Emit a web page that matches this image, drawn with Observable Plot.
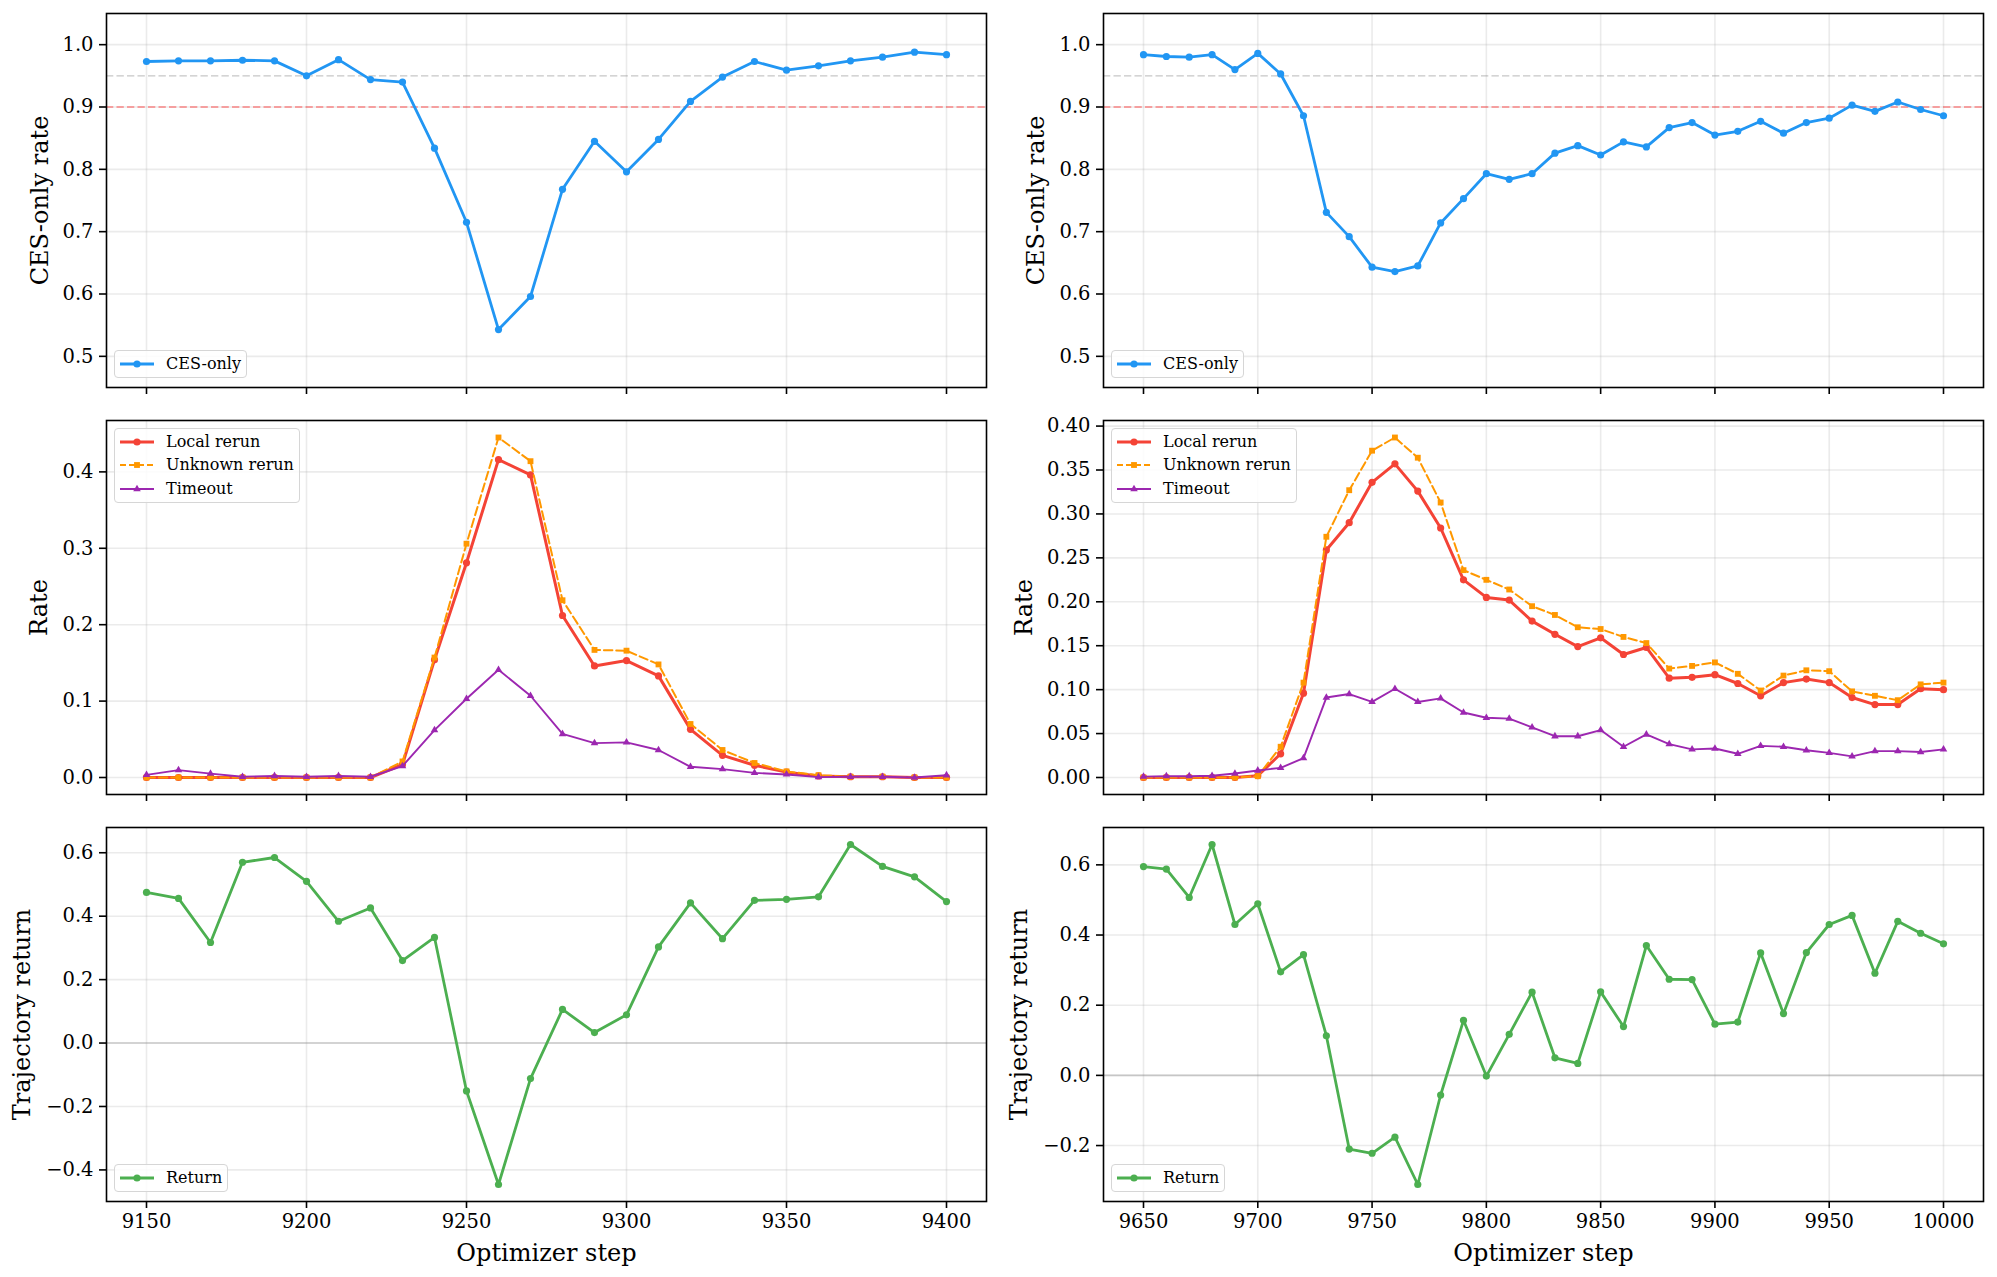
<!DOCTYPE html>
<html><head><meta charset="utf-8">
<script src="https://cdn.jsdelivr.net/npm/d3@7"></script>
<script src="https://cdn.jsdelivr.net/npm/@observablehq/plot@0.6"></script>
<style>
html,body{margin:0;padding:0;background:#fff;}
#fig{position:relative;width:1997px;height:1277px;overflow:hidden;font-family:"DejaVu Serif",serif;}
.panel{position:absolute;}
.legend{position:absolute;background:rgba(255,255,255,0.85);border:1.3px solid #d6d6d6;border-radius:4px;box-sizing:border-box;font-family:"DejaVu Serif",serif;font-size:16px;color:#000;}
.legend .sw{position:absolute;left:4px;}
.legend .lab{position:absolute;left:51px;line-height:20px;white-space:nowrap;}
</style></head><body><div id="fig"></div>
<script>
// ---------- data ----------
const stepsA = [9150,9160,9170,9180,9190,9200,9210,9220,9230,9240,9250,9260,9270,9280,9290,9300,9310,9320,9330,9340,9350,9360,9370,9380,9390,9400];
const cesA = [0.973,0.974,0.974,0.975,0.974,0.950,0.976,0.944,0.940,0.834,0.715,0.543,0.596,0.768,0.845,0.796,0.848,0.909,0.948,0.973,0.959,0.966,0.974,0.980,0.988,0.984];
const localA = [0,0,0,0,0,0,0,0,0.017,0.154,0.281,0.416,0.396,0.212,0.146,0.153,0.133,0.063,0.029,0.016,0.007,0.002,0.001,0.001,0,0];
const unknownA = [0,0,0,0,0,0,0,0,0.021,0.157,0.306,0.445,0.414,0.232,0.167,0.166,0.148,0.070,0.036,0.019,0.008,0.003,0.001,0.001,0,0];
const timeoutA = [0.0035,0.0096,0.005,0.001,0.002,0.001,0.002,0.001,0.015,0.062,0.103,0.141,0.107,0.057,0.045,0.046,0.036,0.014,0.011,0.006,0.004,0.0005,0.001,0.001,0,0.003];
const returnA = [0.475,0.456,0.317,0.570,0.585,0.510,0.384,0.426,0.260,0.333,-0.151,-0.446,-0.112,0.106,0.033,0.089,0.303,0.442,0.329,0.450,0.453,0.461,0.626,0.557,0.524,0.446];

const stepsB = [9650,9660,9670,9680,9690,9700,9710,9720,9730,9740,9750,9760,9770,9780,9790,9800,9810,9820,9830,9840,9850,9860,9870,9880,9890,9900,9910,9920,9930,9940,9950,9960,9970,9980,9990,10000];
const cesB = [0.984,0.981,0.980,0.984,0.960,0.986,0.953,0.886,0.731,0.692,0.643,0.636,0.645,0.714,0.753,0.793,0.784,0.793,0.826,0.838,0.823,0.844,0.836,0.867,0.875,0.855,0.861,0.877,0.858,0.875,0.882,0.903,0.893,0.908,0.896,0.886];
const localB = [0,0,0,0,0,0.002,0.027,0.096,0.259,0.290,0.336,0.357,0.326,0.284,0.225,0.205,0.202,0.178,0.163,0.149,0.159,0.140,0.148,0.113,0.114,0.117,0.107,0.093,0.108,0.112,0.108,0.091,0.083,0.083,0.101,0.100];
const unknownB = [0,0,0,0,0,0.0015,0.035,0.108,0.274,0.327,0.372,0.387,0.364,0.313,0.236,0.225,0.214,0.195,0.185,0.171,0.169,0.160,0.153,0.124,0.127,0.131,0.118,0.099,0.116,0.122,0.121,0.098,0.093,0.088,0.106,0.108];
const timeoutB = [0.001,0.0015,0.0015,0.002,0.0045,0.008,0.011,0.022,0.091,0.095,0.086,0.101,0.086,0.090,0.074,0.068,0.067,0.057,0.047,0.047,0.054,0.035,0.049,0.038,0.032,0.033,0.027,0.036,0.035,0.031,0.028,0.024,0.030,0.030,0.029,0.032];
const returnB = [0.595,0.588,0.507,0.658,0.430,0.489,0.295,0.344,0.113,-0.210,-0.222,-0.176,-0.311,-0.056,0.157,-0.002,0.117,0.237,0.050,0.034,0.238,0.139,0.370,0.274,0.273,0.146,0.152,0.349,0.176,0.350,0.430,0.456,0.291,0.439,0.405,0.375];

// tick values
const xTicksA = [9150,9200,9250,9300,9350,9400];
const xTicksB = [9650,9700,9750,9800,9850,9900,9950,10000];
const yTicksCES = [0.5,0.6,0.7,0.8,0.9,1.0];
const yTicksRateA = [0.0,0.1,0.2,0.3,0.4];
const yTicksRateB = [0.00,0.05,0.10,0.15,0.20,0.25,0.30,0.35,0.40];
const yTicksRetA = [-0.4,-0.2,0.0,0.2,0.4,0.6];
const yTicksRetB = [-0.2,0.0,0.2,0.4,0.6];
const cesDomain = [0.45, 1.05];
const cesRefGray = [0.95];
const cesRefRed = [0.9];
const returnRef = [0];

// labels
const xLabel = "Optimizer step";
const yLabels = {ces: "CES-only rate", rate: "Rate", ret: "Trajectory return"};

// series styles
const S = {
  ces: {name: "CES-only", color: "#2196F3", width: 2.8, symbol: "circle", r: 3.6, dash: null},
  local: {name: "Local rerun", color: "#F44336", width: 3.0, symbol: "circle", r: 3.6, dash: null},
  unknown: {name: "Unknown rerun", color: "#FF9800", width: 2.0, symbol: "square", r: 3.3, dash: "8.5,3.8"},
  timeout: {name: "Timeout", color: "#9C27B0", width: 1.9, symbol: "triangle", r: 2.8, dash: null},
  ret: {name: "Return", color: "#4CAF50", width: 2.8, symbol: "circle", r: 3.6, dash: null}
};

// ---------- helpers ----------
const pad = (arr) => { const [a, b] = d3.extent(arr); const m = (b - a) * 0.05; return [a - m, b + m]; };
const rows = (xs, ys) => xs.map((x, i) => ({x, y: ys[i]}));
const FONT = "DejaVu Serif";
const fig = document.getElementById("fig");

const cols = [
  {left: 0, width: 998, ml: 106, mr: 12},
  {left: 998, width: 999, ml: 105, mr: 14}
];
const rowsL = [
  {top: 0, height: 410, mt: 13, mb: 23},
  {top: 410, height: 410, mt: 10, mb: 26},
  {top: 818, height: 459, mt: 9, mb: 76}
];

function seriesMarks(steps, vals, st) {
  const d = rows(steps, vals);
  return [
    Plot.line(d, {x: "x", y: "y", stroke: st.color, strokeWidth: st.width, strokeDasharray: st.dash ?? undefined}),
    Plot.dot(d, {x: "x", y: "y", fill: st.color, stroke: "none", symbol: () => st.symbol, r: st.r})
  ];
}

function panel(ci, ri, cfg) {
  const c = cols[ci], r = rowsL[ri];
  const marks = [
    Plot.gridX(cfg.xTicks, {stroke: "#b0b0b0", strokeOpacity: 0.26, strokeWidth: 1.6}),
    Plot.gridY(cfg.yTicks, {stroke: "#b0b0b0", strokeOpacity: 0.26, strokeWidth: 1.6}),
    ...(cfg.refs || []),
    ...cfg.series.flatMap(([vals, st]) => seriesMarks(cfg.steps, vals, st)),
    Plot.frame({stroke: "black", strokeWidth: 1.6}),
    Plot.axisX({ticks: cfg.xTicks, tickSize: 7, tickPadding: 6, strokeWidth: 1.6, fontSize: 19.5, label: null,
      tickFormat: cfg.showX ? d3.format("d") : () => ""}),
    Plot.axisY({ticks: cfg.yTicks, tickSize: 7, tickPadding: 6, strokeWidth: 1.6, fontSize: 19.5, label: null,
      tickFormat: d3.format(cfg.yFmt)}),
    Plot.text([cfg.ylabel], {frameAnchor: "left", dx: cfg.ylabelDx, rotate: -90, textAnchor: "middle", lineAnchor: "middle", fontSize: 24, fill: "black"})
  ];
  if (cfg.showX) marks.push(Plot.text([xLabel], {frameAnchor: "bottom", dy: 52, textAnchor: "middle", lineAnchor: "middle", fontSize: 24, fill: "black"}));
  const svg = Plot.plot({
    width: c.width, height: r.height,
    marginLeft: c.ml, marginRight: c.mr, marginTop: r.mt, marginBottom: r.mb,
    x: {domain: pad(cfg.steps)},
    y: {domain: cfg.yDomain},
    style: {fontFamily: FONT, background: "transparent", overflow: "visible", color: "black"},
    marks
  });
  svg.classList.add("panel");
  svg.style.left = c.left + "px";
  svg.style.top = r.top + "px";
  fig.appendChild(svg);

  // legend
  const frameLeft = c.left + c.ml, frameTop = r.top + r.mt, frameBottom = r.top + r.height - r.mb;
  const n = cfg.series.length;
  const h = n === 1 ? 28 : 75;
  const box = document.createElement("div");
  box.className = "legend";
  box.style.left = (frameLeft + 8) + "px";
  box.style.top = (cfg.legendPos === "lower" ? frameBottom - 9 - h : frameTop + 8) + "px";
  box.style.height = h + "px";
  box.style.width = cfg.legendWidth + "px";
  const centers = n === 1 ? [13] : [12.5, 36, 59.5];
  cfg.series.forEach(([vals, st], i) => {
    const cy = centers[i];
    const ns = "http://www.w3.org/2000/svg";
    const sw = document.createElementNS(ns, "svg");
    sw.setAttribute("width", 36); sw.setAttribute("height", 14);
    sw.classList.add("sw");
    sw.style.top = (cy - 7) + "px";
    const ln = document.createElementNS(ns, "line");
    ln.setAttribute("x1", 1); ln.setAttribute("x2", 35); ln.setAttribute("y1", 7); ln.setAttribute("y2", 7);
    ln.setAttribute("stroke", st.color); ln.setAttribute("stroke-width", st.width);
    if (st.dash) ln.setAttribute("stroke-dasharray", "6,3");
    sw.appendChild(ln);
    const sym = st.symbol === "circle" ? d3.symbolCircle : st.symbol === "square" ? d3.symbolSquare : d3.symbolTriangle;
    const p = document.createElementNS(ns, "path");
    p.setAttribute("d", d3.symbol(sym, Math.PI * st.r * st.r)());
    p.setAttribute("transform", "translate(18,7)");
    p.setAttribute("fill", st.color);
    sw.appendChild(p);
    box.appendChild(sw);
    const lab = document.createElement("span");
    lab.className = "lab";
    lab.style.top = (cy - 10) + "px";
    lab.textContent = st.name;
    box.appendChild(lab);
  });
  fig.appendChild(box);
}

const refCES = [
  Plot.ruleY(cesRefGray, {stroke: "gray", strokeOpacity: 0.45, strokeWidth: 1.4, strokeDasharray: "7.3,3.2"}),
  Plot.ruleY(cesRefRed, {stroke: "red", strokeOpacity: 0.45, strokeWidth: 1.4, strokeDasharray: "7.3,3.2"})
];
const refRet = [Plot.ruleY(returnRef, {stroke: "gray", strokeOpacity: 0.35, strokeWidth: 1.6})];

panel(0, 0, {steps: stepsA, xTicks: xTicksA, yTicks: yTicksCES, yFmt: ".1f", yDomain: cesDomain, ylabel: yLabels.ces, ylabelDx: -66,
  refs: refCES, series: [[cesA, S.ces]], legendPos: "lower", legendWidth: 133});
panel(1, 0, {steps: stepsB, xTicks: xTicksB, yTicks: yTicksCES, yFmt: ".1f", yDomain: cesDomain, ylabel: yLabels.ces, ylabelDx: -67,
  refs: refCES, series: [[cesB, S.ces]], legendPos: "lower", legendWidth: 133});
panel(0, 1, {steps: stepsA, xTicks: xTicksA, yTicks: yTicksRateA, yFmt: ".1f", yDomain: pad([...localA, ...unknownA, ...timeoutA]), ylabel: yLabels.rate, ylabelDx: -67,
  series: [[localA, S.local], [unknownA, S.unknown], [timeoutA, S.timeout]], legendPos: "upper", legendWidth: 186});
panel(1, 1, {steps: stepsB, xTicks: xTicksB, yTicks: yTicksRateB, yFmt: ".2f", yDomain: pad([...localB, ...unknownB, ...timeoutB]), ylabel: yLabels.rate, ylabelDx: -79,
  series: [[localB, S.local], [unknownB, S.unknown], [timeoutB, S.timeout]], legendPos: "upper", legendWidth: 186});
panel(0, 2, {steps: stepsA, xTicks: xTicksA, yTicks: yTicksRetA, yFmt: ".1f", yDomain: pad(returnA), ylabel: yLabels.ret, ylabelDx: -84, showX: true,
  refs: refRet, series: [[returnA, S.ret]], legendPos: "lower", legendWidth: 114});
panel(1, 2, {steps: stepsB, xTicks: xTicksB, yTicks: yTicksRetB, yFmt: ".1f", yDomain: pad(returnB), ylabel: yLabels.ret, ylabelDx: -84, showX: true,
  refs: refRet, series: [[returnB, S.ret]], legendPos: "lower", legendWidth: 114});
</script></body></html>
